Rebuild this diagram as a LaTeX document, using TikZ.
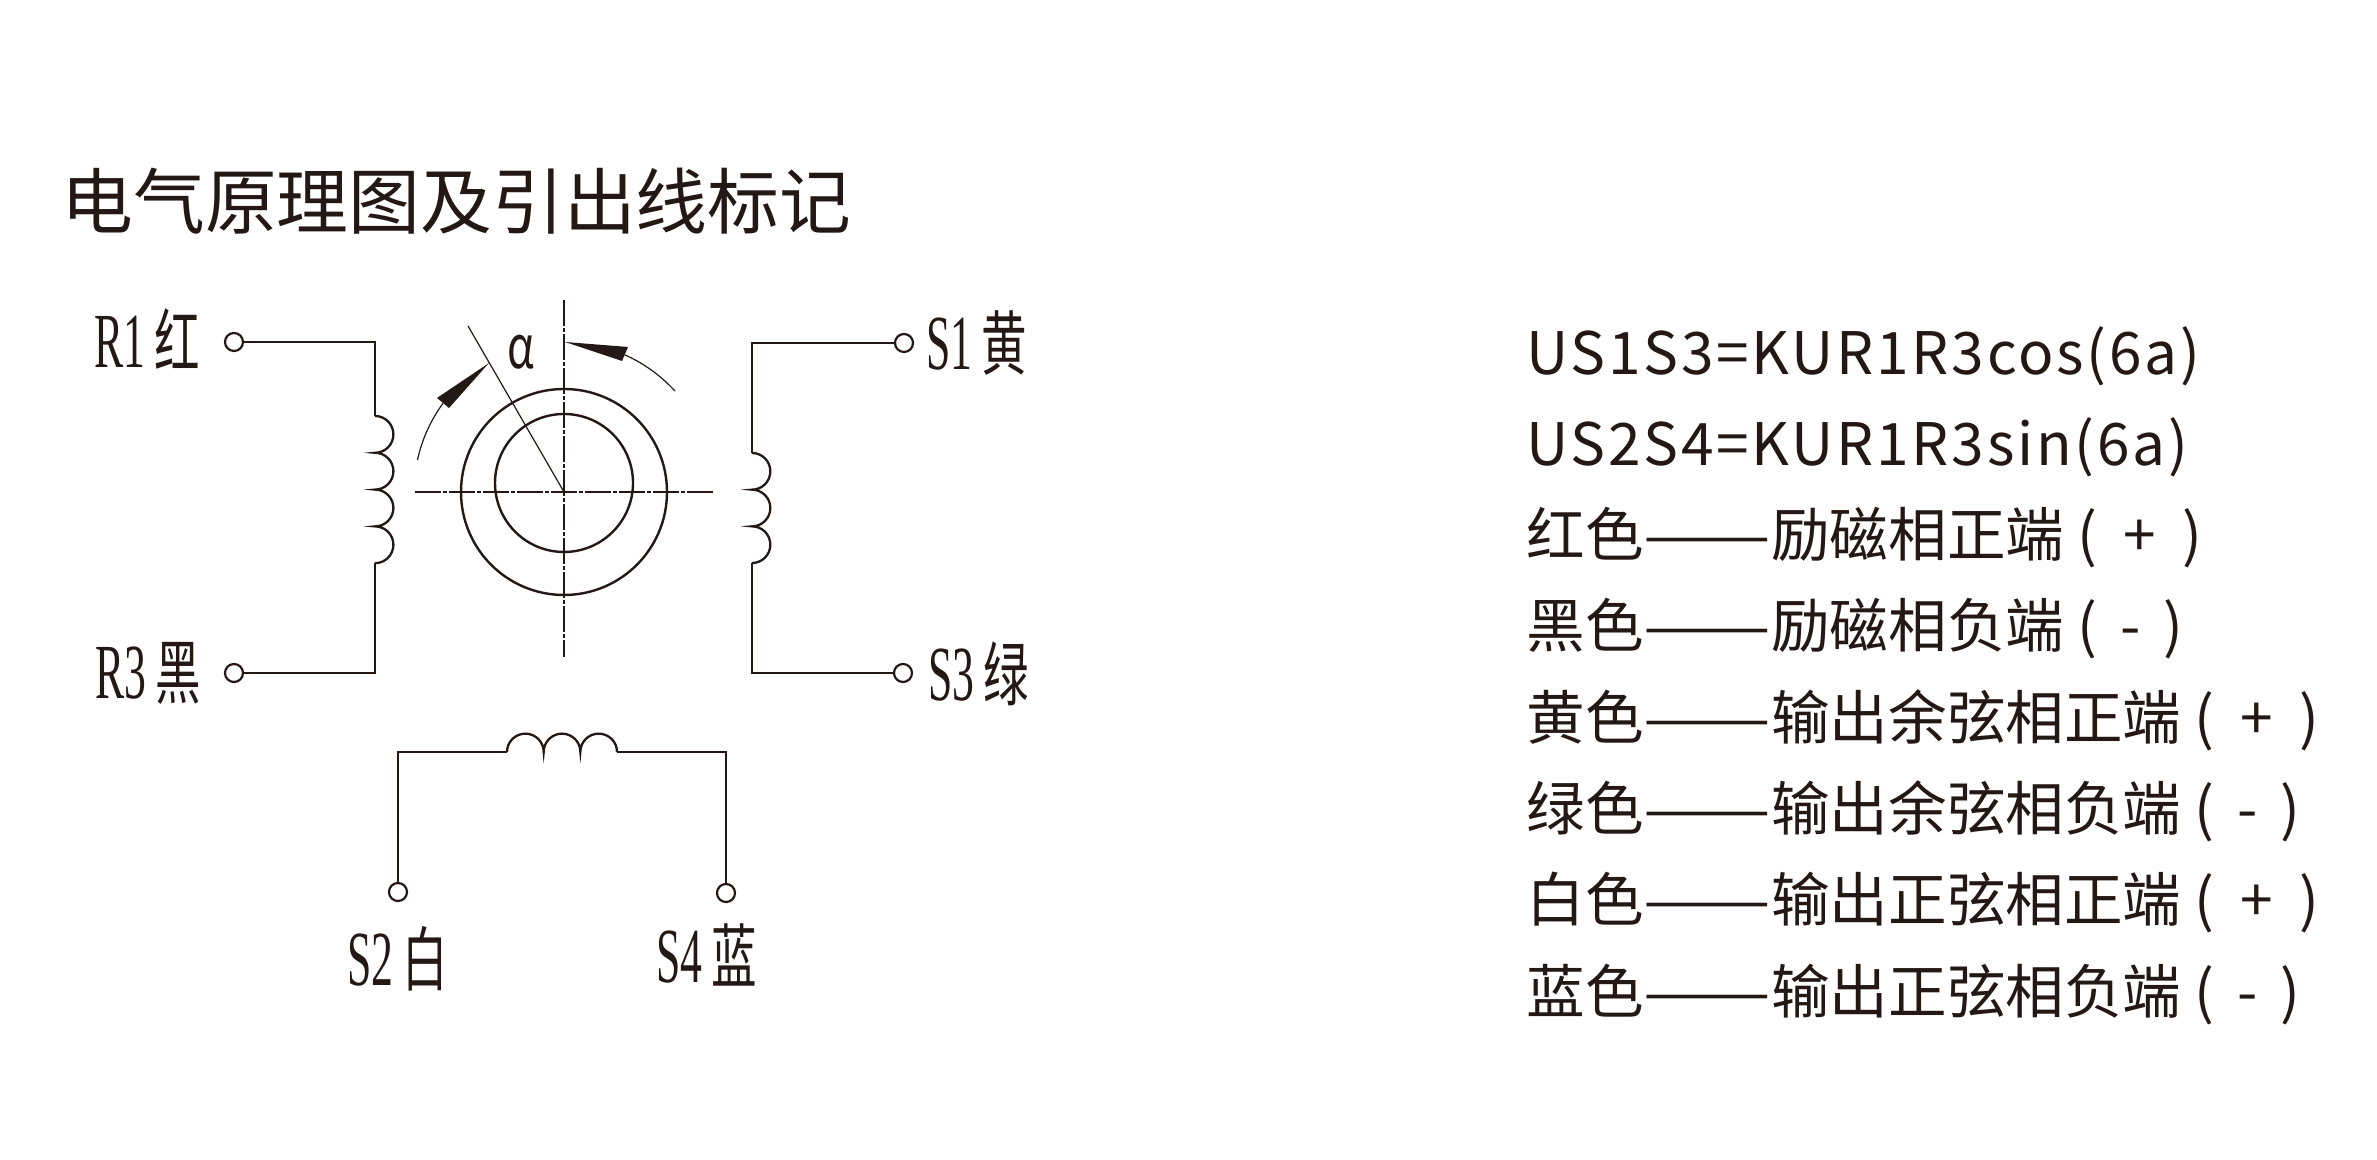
\documentclass[tikz,border=0pt]{standalone}
\usepackage{fontspec}
\usepackage{graphicx}
\setmainfont{Noto Sans CJK SC}
\newfontfamily\latinlab{Liberation Serif}
\newfontfamily\cjklab{Noto Sans CJK SC}
\newfontfamily\formulafont[LetterSpace=4.7]{Noto Sans CJK SC}
\definecolor{inkblack}{HTML}{231815}
\newcommand{\wirelab}[2]{\scalebox{0.56}[1]{\latinlab\fontsize{39pt}{39pt}\selectfont #1}\hspace{4.5pt}\scalebox{0.65}[1]{\cjklab\fontsize{35pt}{35pt}\selectfont #2}}
\newcommand{\longdash}{\scalebox{1.3}[1]{——}}
\tikzset{
  wire/.style={draw=inkblack, line width=1.15pt, line join=miter},
  thinwire/.style={draw=inkblack, line width=0.6pt},
  axisline/.style={draw=inkblack, line width=0.65pt, dash pattern=on 13pt off 1pt on 2pt off 1pt},
  ring/.style={draw=inkblack, line width=1.2pt},
  terminal/.style={circle, draw=inkblack, line width=1.1pt, inner sep=0pt, minimum size=9pt},
  wirelabel/.style={anchor=base west, inner sep=0pt, text=inkblack},
  textline/.style={anchor=base west, inner sep=0pt, text=inkblack, font=\fontsize{29.3pt}{30pt}\selectfont},
  titleline/.style={anchor=base west, inner sep=0pt, text=inkblack, font=\fontsize{35.9pt}{36pt}\selectfont}
}
\begin{document}
\begin{tikzpicture}[x=0.5pt, y=0.5pt]
  \useasboundingbox (0,0) rectangle (2377,1160);
  \node[titleline] (title) at (61,931) {电气原理图及引出线标记};

  % rotor
  \coordinate (hub) at (564,668);
  \coordinate (vt) at (564,860);
  \coordinate (vb) at (564,503);
  \coordinate (hl) at (415,668);
  \coordinate (hr) at (713,668);
  \coordinate (rad) at (468,834);
  \draw[ring] (hub) circle[radius=51.5pt];
  \draw[ring] (564,677) circle[radius=34.5pt];
  \draw[axisline] (vt) -- (vb);
  \draw[axisline] (hl) -- (hr);
  \draw[thinwire] (hub) -- (rad);
  \node[anchor=base west, inner sep=0pt, text=inkblack] (alpha) at (507,791) {\scalebox{0.72}[1]{\fontsize{30pt}{30pt}\selectfont α}};

  % angle arcs
  \draw[thinwire] ([shift={(167.7:150)}]hub) arc[start angle=167.7, end angle=143.7, radius=75pt];
  \draw[thinwire] ([shift={(42.3:150)}]hub) arc[start angle=42.3, end angle=66.2, radius=75pt];
  \fill[inkblack] (489,797) -- (437,762) -- (449,752) -- cycle;
  \fill[inkblack] (565,818) -- (628,813) -- (622,799) -- cycle;

  % terminals
  \node[terminal] (r1) at (234,818) {};
  \node[terminal] (r3) at (234,487) {};
  \node[terminal] (s1) at (904,817) {};
  \node[terminal] (s3) at (903,487) {};
  \node[terminal] (s2) at (398,268) {};
  \node[terminal] (s4) at (726,267) {};

  \node[wirelabel] (r1lab) at (94,792) {\wirelab{R1}{红}};
  \node[wirelabel] (r3lab) at (95,461) {\wirelab{R3}{黑}};
  \node[wirelabel] (s1lab) at (926,790) {\wirelab{S1}{黄}};
  \node[wirelabel] (s3lab) at (928,459) {\wirelab{S3}{绿}};
  \node[wirelabel] (s2lab) at (347,174) {\wirelab{S2}{白}};
  \node[wirelabel] (s4lab) at (656,177) {\wirelab{S4}{蓝}};

  % coils
  \coordinate (rc1) at (375,744);
  \coordinate (rc2) at (375,597);
  \coordinate (sc1) at (752,707);
  \coordinate (sc2) at (752,597);
  \coordinate (bc1) at (507,408);
  \coordinate (bc2) at (617,408);
  \draw[wire] (r1) -| (rc1);
  \draw[wire] (rc1) \foreach \k in {1,...,4} {arc[start angle=90, end angle=-90, radius=9.2pt]};
  \draw[wire] (rc2) |- (r3);
  \draw[wire] (s1) -| (sc1);
  \draw[wire] (sc1) \foreach \k in {1,...,3} {arc[start angle=90, end angle=-90, radius=9.17pt]};
  \draw[wire] (sc2) |- (s3);
  \draw[wire] (s2) |- (bc1);
  \draw[wire] (bc1) \foreach \k in {1,...,3} {arc[start angle=180, end angle=0, radius=9.17pt]};
  \draw[wire] (bc2) -| (s4);

  % legend
  \foreach \txt [count=\i from 0] in {
    {\formulafont\raisebox{-0.3pt}{US1S3=KUR1R3cos(6a)}},
    {\formulafont\raisebox{-0.3pt}{US2S4=KUR1R3sin(6a)}},
    红色\longdash 励磁相正端 (~~+~~),
    黑色\longdash 励磁相负端 (~\,-~\,),
    黄色\longdash 输出余弦相正端 (~~+~~),
    绿色\longdash 输出余弦相负端 (~\,-~\,),
    白色\longdash 输出正弦相正端 (~~+~~),
    蓝色\longdash 输出正弦相负端 (~\,-~\,)}
    \node[textline] (line\i) at (1526,{786.5-91.4*\i}) {\txt};
\end{tikzpicture}
\end{document}
